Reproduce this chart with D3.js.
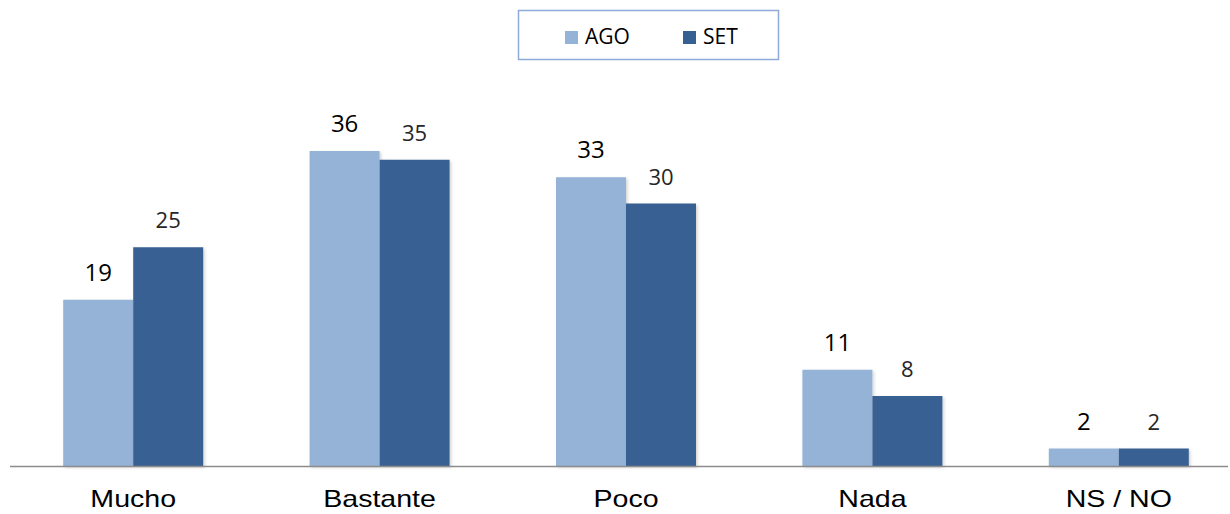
<!DOCTYPE html>
<html>
<head>
<meta charset="utf-8">
<script src="https://cdn.jsdelivr.net/npm/d3@7"></script>
<style>
  html, body { margin: 0; padding: 0; background: #fff; }
  svg { display: block; }
</style>
</head>
<body>
<svg id="chart" width="1230" height="514"></svg>
<script>
// ---- data ----
const categories = ["Mucho", "Bastante", "Poco", "Nada", "NS / NO"];
const seriesNames = ["AGO", "SET"];
const agoValues = [19, 36, 33, 11, 2];
const setValues = [25, 35, 30, 8, 2];
const seriesColors = ["#95b3d7", "#376092"];

const svg = d3.select("#chart");
const W = 1230, H = 514;
const baseY = 466;

const x = d3.scaleBand().domain(categories).range([10, 1242]).padding(0);
const y = d3.scaleLinear().domain([0, 40]).range([baseY, 116]);
const barW = 70;

const data = categories.map((c, i) => ({
  cat: c,
  vals: [
    { s: seriesNames[0], v: agoValues[i] },
    { s: seriesNames[1], v: setValues[i] }
  ]
}));

const inner = d3.scaleBand().domain(seriesNames).range([-barW, barW]).padding(0);

// soft shadow
const defs = svg.append("defs");
const f = defs.append("filter").attr("id", "sh").attr("x", "-10%").attr("y", "-10%").attr("width", "130%").attr("height", "130%");
f.append("feDropShadow").attr("dx", 1.5).attr("dy", 1.5).attr("stdDeviation", 1.5).attr("flood-color", "#000").attr("flood-opacity", 0.18);

const groups = svg.append("g").selectAll("g").data(data).join("g")
  .attr("transform", d => `translate(${x(d.cat) + x.bandwidth() / 2},0)`);

groups.selectAll("rect").data(d => d.vals).join("rect")
  .attr("x", d => inner(d.s))
  .attr("y", d => y(d.v))
  .attr("width", inner.bandwidth())
  .attr("height", d => baseY - y(d.v))
  .attr("fill", (d, i) => seriesColors[i])
  .attr("filter", "url(#sh)");

groups.selectAll("text.val").data(d => d.vals).join("text")
  .attr("class", "val")
  .attr("x", d => inner(d.s) + inner.bandwidth() / 2)
  .attr("y", d => y(d.v) - 19)
  .attr("text-anchor", "middle")
  .attr("font-family", "'Open Sans', sans-serif")
  .attr("font-size", (d, i) => i === 0 ? 24 : 22)
  .attr("fill", (d, i) => i === 0 ? "#000" : "#262626")
  .text(d => d.v);

// axis line
svg.append("line")
  .attr("x1", 10).attr("x2", 1228)
  .attr("y1", baseY + 0.5).attr("y2", baseY + 0.5)
  .attr("stroke", "#8c8c8c").attr("stroke-width", 1.5);

// category labels
svg.append("g").selectAll("text").data(categories).join("text")
  .attr("transform", d => `translate(${x(d) + x.bandwidth() / 2},507) scale(1.19,1)`)
  .attr("text-anchor", "middle")
  .attr("font-family", "'Liberation Sans', Arial, sans-serif")
  .attr("font-size", 24)
  .attr("fill", "#000")
  .text(d => d);

// legend
const lg = svg.append("g");
lg.append("rect")
  .attr("x", 518.5).attr("y", 10.5).attr("width", 260).attr("height", 49)
  .attr("fill", "#fff").attr("stroke", "#8eaadb").attr("stroke-width", 1.5);
const legendX = [565, 683];
seriesNames.forEach((s, i) => {
  lg.append("rect").attr("x", legendX[i]).attr("y", 31).attr("width", 13).attr("height", 13)
    .attr("fill", seriesColors[i]);
  lg.append("text").attr("x", legendX[i] + 20).attr("y", 43.5)
    .attr("font-family", "'Open Sans', sans-serif").attr("font-size", 21)
    .attr("fill", "#000").text(s);
});
</script>
</body>
</html>
